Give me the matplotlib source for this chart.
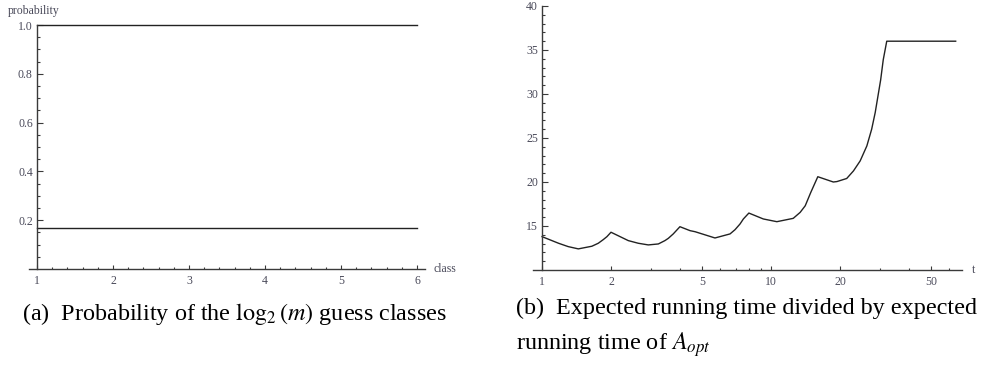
import matplotlib
matplotlib.use("Agg")
import matplotlib.pyplot as plt
from matplotlib.ticker import FixedLocator, NullFormatter

plt.rcParams['font.family'] = ['Liberation Serif', 'DejaVu Serif']
plt.rcParams['mathtext.fontset'] = 'stix'

# (a) probability of the guess classes
klassen = [1, 6]
p_zgoraj = [1.0, 1.0]
p_spodaj = [1 / 6, 1 / 6]
x_oznake_a = [1, 2, 3, 4, 5, 6]
y_oznake_a = [0.2, 0.4, 0.6, 0.8, 1.0]

# (b) expected running time ratio, odcitano s slike
t_vals = [1.0, 1.18, 1.3, 1.44, 1.65, 1.76, 1.85, 1.92, 2.0, 2.38, 2.63, 2.91,
          3.22, 3.44, 3.56, 3.74, 4.0, 4.43, 4.66, 5.69, 6.62, 6.96, 7.32,
          7.57, 8.0, 9.25, 10.6, 12.5, 13.4, 14.1, 14.9, 16.0, 18.7, 19.4,
          21.4, 22.9, 24.5, 26.2, 27.5, 28.5, 30.1, 30.9, 32.0, 64.0]
razmerje = [13.79, 13.04, 12.66, 12.4, 12.7, 13.04, 13.45, 13.79, 14.29, 13.34,
            13.04, 12.85, 12.96, 13.34, 13.6, 14.1, 14.92, 14.47, 14.35, 13.64,
            14.1, 14.58, 15.23, 15.8, 16.47, 15.8, 15.49, 15.87, 16.55, 17.3,
            18.8, 20.6, 20.0, 20.05, 20.4, 21.26, 22.4, 24.1, 26.0, 27.9, 31.6,
            33.9, 36.0, 36.0]
x_oznake_b = [1, 2, 5, 10, 20, 50]
x_minor_b = [3, 4, 6, 7, 8, 9, 30, 40, 60]
y_oznake_b = [15, 20, 25, 30, 35, 40]

W, H = 984, 365
barva_osi = '#3a3a3a'
barva_teksta = '#4a4a5a'

fig = plt.figure(figsize=(W / 100, H / 100), dpi=100)


def osi(ax):
    for s in ['top', 'right']:
        ax.spines[s].set_visible(False)
    for s in ['left', 'bottom']:
        ax.spines[s].set_color(barva_osi)
        ax.spines[s].set_linewidth(1.0)
    ax.spines['left'].set_position(('data', 1))
    ax.tick_params(which='both', direction='in', colors=barva_osi,
                   labelcolor=barva_teksta, labelsize=8.5, width=0.8)
    ax.tick_params(axis='y', which='major', length=4.5, pad=3)
    ax.tick_params(axis='y', which='minor', length=2.3)
    ax.tick_params(axis='x', which='major', length=3.2, pad=4)
    ax.tick_params(axis='x', which='minor', length=1.6)
    ax.patch.set_visible(False)


### PLOT a ###
ax1 = fig.add_axes([29 / W, 1 - 269 / H, (425 - 29) / W, (269 - 25) / H])
osi(ax1)
ax1.plot(klassen, p_zgoraj, color='#222222', lw=1.0, clip_on=False)
ax1.plot(klassen, p_spodaj, color='#222222', lw=1.0, clip_on=False)
ax1.set_xlim(1 - 8 / 76, 6 + 8 / 76)
ax1.set_ylim(0, 1.0)
ax1.set_xticks(x_oznake_a)
ax1.set_xticks([1 + 0.2 * i for i in range(26) if i % 5 != 0], minor=True)
ax1.set_yticks(y_oznake_a)
ax1.set_yticklabels(['%.1f' % v for v in y_oznake_a])
ax1.set_yticks([0.05 * i for i in range(1, 20) if i % 4 != 0], minor=True)
ax1.yaxis.set_minor_formatter(NullFormatter())

fig.text(8 / W, 1 - 11 / H, 'probability', fontsize=8.5, color=barva_teksta,
         ha='left', va='center')
fig.text(433 / W, 1 - 269 / H, 'class', fontsize=8.5, color=barva_teksta,
         ha='left', va='center')

### PLOT b ###
ax2 = fig.add_axes([533 / W, 1 - 270 / H, (962 - 533) / W, (270 - 6) / H])
ax2.set_xscale('log')
osi(ax2)
ax2.plot(t_vals, razmerje, color='#222222', lw=1.0)
ax2.set_xlim(0.913, 68.2)
ax2.set_ylim(10, 40)
ax2.xaxis.set_major_locator(FixedLocator(x_oznake_b))
ax2.set_xticklabels([str(v) for v in x_oznake_b])
ax2.xaxis.set_minor_locator(FixedLocator(x_minor_b))
ax2.xaxis.set_minor_formatter(NullFormatter())
ax2.set_yticks(y_oznake_b)
ax2.set_yticks([v for v in range(11, 40) if v % 5 != 0], minor=True)
ax2.yaxis.set_minor_formatter(NullFormatter())

fig.text(972 / W, 1 - 270 / H, 't', fontsize=8.5, color=barva_teksta,
         ha='left', va='center')

### napisi ###
fig.text(22 / W, 1 - 320 / H, r'(a)  Probability of the $\log_2(m)$ guess classes',
         fontsize=17.4, color='black', ha='left', va='baseline')
fig.text(516 / W, 1 - 314 / H, '(b)  Expected running time divided by expected',
         fontsize=17.4, color='black', ha='left', va='baseline')
fig.text(516 / W, 1 - 350 / H, r'running time of $A_{opt}$',
         fontsize=17.4, color='black', ha='left', va='baseline')

fig.savefig('out.png', dpi=100)
